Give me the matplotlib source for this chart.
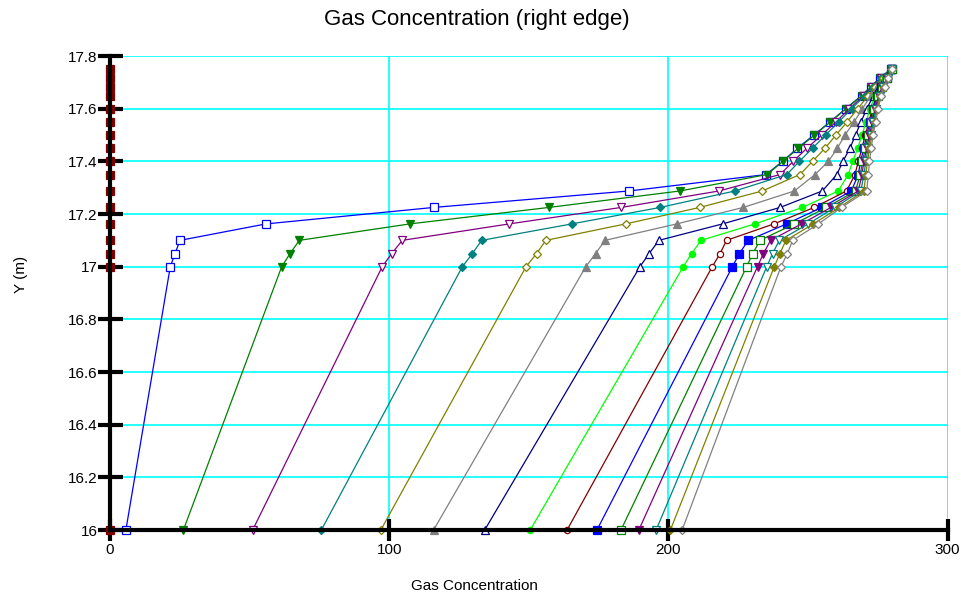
import matplotlib
matplotlib.use("Agg")
import matplotlib.pyplot as plt

plt.rcParams.update({
    "font.family": ["Liberation Sans", "DejaVu Sans"],
    "font.size": 11,
})

# y levels shared by every series (m)
y_levels = [16, 17, 17.05, 17.1, 17.1625, 17.225, 17.2875, 17.35, 17.4, 17.45,
            17.5, 17.55, 17.6, 17.65, 17.6833, 17.7167, 17.75]

# gas concentration per time step (right edge profile)
s00 = [0] * 17
s01 = [5.7, 21.6, 23.3, 25.1, 55.9, 115.9, 185.9, 235.0, 240.9, 246.2, 252.1, 257.9, 263.5, 269.2, 272.4, 275.8, 279.6]
s02 = [26.3, 61.5, 64.5, 67.8, 107.4, 157.2, 204.1, 235.3, 241.0, 246.5, 252.3, 258.0, 263.6, 269.3, 272.5, 275.9, 279.6]
s03 = [51.1, 97.5, 100.9, 104.7, 143.0, 183.1, 218.1, 240.0, 244.7, 249.6, 254.9, 260.0, 264.8, 270.0, 272.9, 276.1, 279.7]
s04 = [75.7, 126.2, 129.8, 133.1, 165.4, 197.0, 223.8, 242.4, 246.9, 251.6, 256.3, 261.0, 265.6, 270.4, 273.2, 276.3, 279.7]
s05 = [97.0, 149.0, 152.8, 156.1, 184.7, 211.2, 233.6, 247.1, 251.6, 256.1, 260.0, 264.0, 267.8, 271.6, 274.0, 276.8, 279.8]
s06 = [115.9, 170.4, 173.9, 177.3, 203.0, 226.8, 245.1, 252.5, 257.3, 260.5, 263.2, 266.5, 269.5, 272.5, 274.8, 277.2, 279.8]
s07 = [134.2, 189.8, 193.1, 196.6, 219.4, 240.0, 255.1, 260.3, 262.5, 265.0, 267.0, 269.0, 271.0, 273.5, 275.3, 277.5, 279.8]
s08 = [150.5, 205.3, 208.3, 211.7, 231.0, 248.0, 260.8, 264.4, 266.0, 267.8, 269.3, 270.8, 272.2, 274.0, 275.6, 277.7, 279.9]
s09 = [163.7, 215.7, 218.5, 220.8, 237.8, 252.2, 263.8, 266.8, 268.0, 269.3, 270.5, 271.8, 273.0, 274.5, 276.0, 278.0, 279.9]
s10 = [174.4, 222.9, 225.4, 228.6, 242.3, 254.9, 265.5, 268.0, 268.8, 270.0, 271.0, 272.2, 273.3, 274.8, 276.2, 278.1, 280.0]
s11 = [183.0, 228.0, 230.2, 232.8, 245.1, 256.6, 267.0, 268.7, 269.5, 270.5, 271.5, 272.6, 273.7, 275.0, 276.4, 278.3, 280.0]
s12 = [189.4, 231.9, 234.0, 236.6, 247.7, 258.2, 268.0, 269.3, 270.0, 271.0, 272.0, 273.0, 274.0, 275.3, 276.6, 278.4, 280.0]
s13 = [195.6, 235.2, 237.3, 239.7, 250.1, 259.6, 268.9, 270.0, 270.7, 271.5, 272.4, 273.4, 274.4, 275.6, 276.9, 278.5, 280.1]
s14 = [200.7, 237.9, 239.9, 242.1, 251.9, 261.2, 270.0, 270.7, 271.3, 272.0, 272.9, 273.8, 274.8, 275.9, 277.1, 278.7, 280.1]
s15 = [204.9, 240.3, 242.6, 244.5, 253.7, 262.0, 271.0, 271.6, 272.0, 272.6, 273.3, 274.2, 275.1, 276.2, 277.4, 278.8, 280.2]

series = [s00, s01, s02, s03, s04, s05, s06, s07, s08, s09, s10, s11, s12, s13, s14, s15]

colors = ["#800000", "#0000FF", "#008000", "#800080", "#008080", "#808000", "#808080", "#000080", "#00FF00"]
markers = ["s", "s", "v", "v", "D", "D", "^", "^", "o", "o"]

x_ticks = [0, 100, 200, 300]
y_ticks = [16, 16.2, 16.4, 16.6, 16.8, 17, 17.2, 17.4, 17.6, 17.8]

fig = plt.figure(figsize=(9.62, 5.96), dpi=100)
ax = fig.add_axes([0.1143, 0.1107, 0.8708, 0.7953])

sizes = {"s": 5.8, "v": 6.2, "^": 6.2, "D": 4.2, "o": 4.5}
for i, vals in enumerate(series):
    c = colors[i % len(colors)]
    m = markers[i % len(markers)]
    filled = (i % 2 == 0)
    ax.plot(vals, y_levels, color=c, linewidth=0.9, marker=m, markersize=sizes[m],
            markerfacecolor=c if filled else "white", markeredgecolor=c,
            markeredgewidth=0.9, clip_on=False, zorder=3)

ax.set_xlim(0, 300)
ax.set_ylim(16, 17.8)
ax.set_xticks(x_ticks)
ax.set_yticks(y_ticks)
ax.set_yticklabels([f"{v:g}" for v in y_ticks])
ax.grid(True, color="#00FFFF", linewidth=1.2, zorder=0)
ax.set_axisbelow(True)

for side in ["top", "right"]:
    ax.spines[side].set_visible(False)
for side in ["left", "bottom"]:
    ax.spines[side].set_linewidth(3)
    ax.spines[side].set_zorder(5)

ax.tick_params(axis="x", direction="inout", length=16, width=3, pad=1, labelsize=11)
ax.tick_params(axis="y", direction="inout", length=18, width=3, pad=0, labelsize=11)

fig.text(0.496, 0.968, "Gas Concentration (right edge)", ha="center", va="center", fontsize=16)
fig.text(0.493, 0.017, "Gas Concentration", ha="center", va="center", fontsize=11)
fig.text(0.022, 0.54, "Y (m)", ha="center", va="center", rotation=90, fontsize=11)

fig.savefig("out.png", dpi=100)
